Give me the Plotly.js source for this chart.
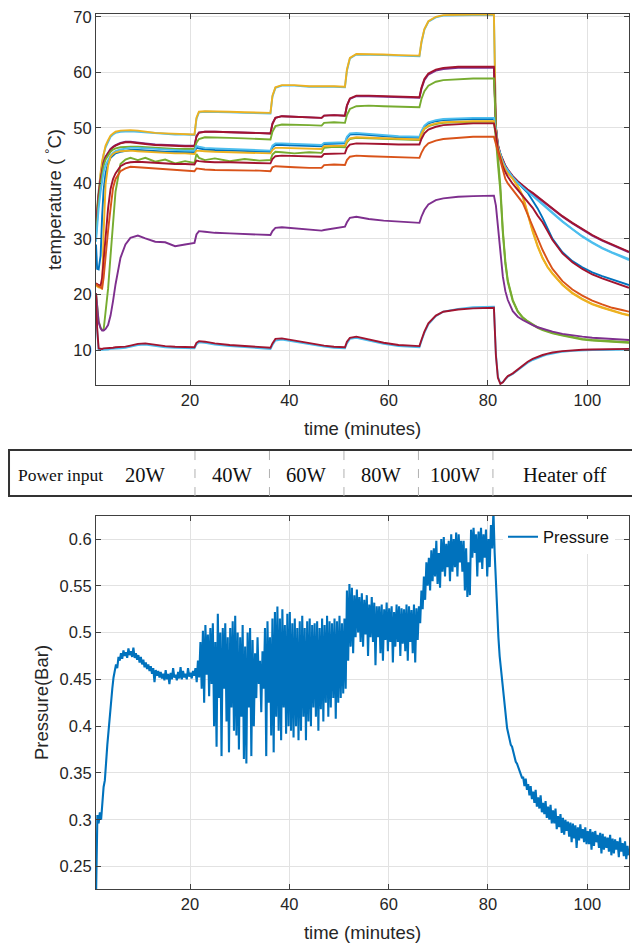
<!DOCTYPE html>
<html><head><meta charset="utf-8">
<script src="https://cdn.plot.ly/plotly-3.0.1.min.js"></script>
<style>html,body{margin:0;padding:0;background:#fff;}#chart{width:632px;height:945px;}</style>
</head><body><div id="chart"></div>
<script>
// ---------- DATA ----------
const timeMin = [1.07,1.3,1.6,2.0,2.3,2.6,3.0,3.5,4.0,4.5,5.0,6.0,7.0,8.0,9.5,11,13,15,17,19,
 20.9,
 21.3,21.8,23,25,28,31,34,36.2,
 36.6,37.2,38.5,41,44,46.5,47,49,51.2,
 51.6,52.2,53.5,56,59,62,66.2,
 66.6,67.2,68,69.5,71,74,77,81.2,
 81.6,82,82.5,83,83.5,84,85,86,87,88,89,90,91,92,93,95,97,99,101,103,105,107,108.4];

const tcCyanTop = [33.0,35.6,38.6,41.6,43.6,45.2,46.5,47.6,48.4,48.8,49.1,49.3,49.4,49.4,49.3,49.2,49.0,48.9,48.8,48.8,
 48.7,
 51.6,52.8,52.9,52.9,52.8,52.7,52.6,52.6,
 55.6,57.2,57.6,57.6,57.4,57.3,57.4,57.4,57.3,
 60.3,62.5,63.2,63.2,63.1,63.0,62.9,
 65.3,67.7,69.1,69.9,70.2,70.3,70.3,70.3,
 50.2,46.8,45.1,43.9,43.0,42.3,41.1,40.1,39.3,38.6,37.9,37.1,36.3,35.5,34.7,33.2,31.8,30.5,29.4,28.4,27.6,26.9,26.4];
const tcYellowTop = [33.5,36.0,39.0,42.0,44.0,45.5,46.8,47.8,48.6,49.0,49.3,49.5,49.6,49.6,49.5,49.3,49.1,49.0,48.9,48.9,
 48.8,
 51.8,52.9,53.0,53.0,52.9,52.8,52.7,52.7,
 55.8,57.3,57.7,57.7,57.5,57.4,57.5,57.5,57.4,
 60.5,62.6,63.3,63.3,63.2,63.1,63.0,
 65.5,67.8,69.2,70.0,70.3,70.4,70.4,70.4,
 50.0,46.5,44.8,43.6,42.6,41.9,41.0,39.6,37.8,34.5,31.5,28.8,26.6,25.0,23.8,21.8,20.3,19.2,18.3,17.7,17.1,16.6,16.3];
const tcPurpleUpper = [32.2,35.0,38.0,40.8,42.6,43.8,44.8,45.6,46.2,46.6,46.9,47.3,47.5,47.5,47.4,47.2,47.0,46.9,46.8,46.8,
 46.8,
 48.5,49.2,49.3,49.3,49.2,49.1,49.0,49.0,
 50.8,51.8,52.1,52.0,51.9,51.8,52.2,52.3,52.2,
 54.0,55.2,55.7,55.7,55.6,55.5,55.4,
 57.0,58.6,59.6,60.3,60.6,60.8,60.8,60.8,
 50.0,46.8,45.2,44.0,43.1,42.4,41.2,40.3,39.5,38.8,38.2,37.5,36.7,36.0,35.3,34.0,32.8,31.7,30.6,29.7,28.9,28.1,27.6];
const tcRedUpper = [32.0,34.8,37.8,40.6,42.5,43.7,44.7,45.5,46.1,46.5,46.8,47.2,47.4,47.4,47.3,47.1,46.9,46.8,46.7,46.7,
 46.7,
 48.4,49.1,49.3,49.3,49.2,49.1,49.0,49.0,
 50.7,51.8,52.1,52.0,51.9,51.8,52.2,52.3,52.2,
 54.0,55.3,55.8,55.8,55.7,55.6,55.5,
 57.2,58.8,59.8,60.5,60.8,61.0,61.0,61.0,
 50.2,47.0,45.3,44.1,43.2,42.5,41.3,40.4,39.6,38.9,38.3,37.6,36.8,36.1,35.4,34.1,32.9,31.8,30.7,29.8,29.0,28.2,27.7];
const tcGreenUpper = [30.5,33.5,36.8,39.8,41.8,43.2,44.3,45.1,45.7,46.1,46.3,46.5,46.6,46.6,46.6,46.5,46.4,46.3,46.2,46.2,
 46.2,
 47.3,48.0,48.3,48.3,48.2,48.1,48.0,47.9,
 49.3,50.3,50.6,50.6,50.5,50.4,50.9,51.0,50.9,
 52.3,53.4,53.9,54.0,53.9,53.8,53.7,
 55.2,56.6,57.6,58.3,58.6,58.8,58.9,58.9,
 50.0,45.0,39.5,31.5,26.0,22.5,19.0,17.0,15.9,15.2,14.6,14.1,13.7,13.4,13.1,12.7,12.3,12.0,11.8,11.7,11.6,11.5,11.4];
const tcBlueMid = [29.0,24.6,24.5,27.0,34.0,38.8,41.8,43.6,44.6,45.1,45.4,45.7,45.9,46.0,46.0,45.9,45.8,45.7,45.7,45.6,
 45.6,
 46.4,46.3,46.1,46.0,45.9,45.8,45.7,45.7,
 46.5,46.9,46.9,46.8,46.7,46.7,47.1,47.2,47.2,
 48.2,48.8,48.9,48.7,48.5,48.3,48.2,
 49.2,50.2,50.8,51.2,51.4,51.5,51.6,51.6,
 49.6,46.6,45.0,43.8,42.9,42.2,41.1,40.1,39.2,38.3,37.0,35.5,33.8,31.8,30.0,27.6,26.0,24.9,24.0,23.3,22.7,22.1,21.7];
const tcCyanMid = [29.5,32.5,35.5,38.5,40.5,42.0,43.3,44.3,45.0,45.5,45.8,46.1,46.3,46.4,46.4,46.3,46.2,46.1,46.0,45.9,
 45.9,
 46.7,46.6,46.4,46.3,46.2,46.1,46.0,45.9,
 46.8,47.2,47.2,47.1,47.0,46.9,47.3,47.4,47.4,
 48.4,49.0,49.1,48.9,48.7,48.5,48.4,
 49.4,50.4,51.0,51.4,51.6,51.7,51.8,51.8,
 49.8,46.7,45.1,43.9,43.0,42.3,41.1,40.1,39.3,38.5,37.8,37.0,36.2,35.4,34.6,33.1,31.7,30.4,29.3,28.3,27.5,26.8,26.2];
const tcGreenMid = [20.2,17.5,15.2,14.0,13.6,13.6,16.5,21.0,27.0,33.5,38.5,43.5,44.3,44.6,44.2,44.6,43.9,44.3,43.6,44.0,
 43.7,
 45.3,44.6,44.2,44.5,44.0,44.4,44.1,44.2,
 45.2,45.7,45.6,45.4,45.6,45.5,46.4,46.6,46.5,
 47.4,48.0,48.2,48.1,48.0,47.9,47.8,
 48.8,49.8,50.3,50.7,50.9,51.0,51.1,51.1,
 48.0,43.5,38.5,31.0,25.5,22.2,18.8,16.9,15.8,15.1,14.5,14.0,13.6,13.3,13.0,12.6,12.2,11.9,11.7,11.6,11.5,11.4,11.3];
const tcYellowMid = [21.6,21.4,21.3,21.2,21.0,31.0,39.8,43.2,44.8,45.3,45.6,45.8,45.9,45.9,45.8,45.7,45.6,45.5,45.4,45.4,
 45.3,
 45.9,45.9,45.8,45.7,45.6,45.5,45.5,45.4,
 46.0,46.4,46.4,46.3,46.2,46.2,46.7,46.8,46.8,
 47.6,48.1,48.3,48.2,48.1,48.0,47.9,
 48.9,49.9,50.4,50.8,51.0,51.1,51.2,51.2,
 49.4,46.4,44.7,43.5,42.5,41.8,40.8,39.4,37.6,34.3,31.3,28.6,26.5,24.9,23.7,21.7,20.2,19.1,18.2,17.6,17.0,16.5,16.2];
const tcRedMid = [22.0,21.8,21.7,21.6,23.0,26.0,30.5,35.5,39.0,40.8,41.8,43.1,43.6,43.8,43.9,43.8,43.7,43.6,43.5,43.5,
 43.4,
 44.1,44.0,43.9,43.8,43.8,43.7,43.6,43.6,
 44.4,44.9,45.0,44.9,44.8,44.8,45.3,45.4,45.4,
 46.4,47.0,47.2,47.2,47.1,47.0,47.0,
 48.0,49.0,49.7,50.2,50.5,50.7,50.8,50.8,
 49.0,46.0,44.3,43.0,42.0,41.2,39.9,38.8,37.7,36.8,35.6,34.2,33.0,31.4,29.8,27.4,25.8,24.6,23.6,22.9,22.3,21.7,21.2];
const tcOrangeMid = [21.9,21.7,21.5,21.3,21.1,23.0,27.0,31.5,35.5,39.2,40.8,42.2,42.7,43.0,42.9,42.8,42.6,42.5,42.4,42.3,
 42.2,
 42.7,42.6,42.5,42.4,42.4,42.3,42.3,42.2,
 42.9,43.1,43.0,42.9,42.8,42.8,43.3,43.4,43.3,
 44.2,44.8,45.0,44.9,44.8,44.7,44.6,
 45.5,46.5,47.2,47.7,48.0,48.2,48.4,48.4,
 47.0,45.5,44.0,42.2,40.8,40.0,38.8,37.6,36.5,34.4,32.2,30.1,28.0,26.2,24.6,22.4,20.9,19.8,18.9,18.2,17.6,17.2,16.9];
const tcPurpleLower = [20.2,17.2,15.0,13.9,13.5,13.5,13.8,14.5,16.2,18.8,21.8,26.6,29.0,30.2,30.6,30.1,29.5,29.4,28.7,29.0,
 29.3,
 30.8,31.4,31.3,31.1,31.0,30.9,30.8,30.7,
 31.4,32.0,32.1,31.9,31.7,31.5,31.6,31.9,32.2,
 33.0,33.8,34.0,33.6,33.3,33.1,32.9,
 34.0,35.2,36.2,37.0,37.3,37.6,37.7,37.8,
 36.0,32.0,27.5,23.2,20.6,19.0,17.0,16.0,15.4,14.9,14.5,14.1,13.8,13.5,13.3,12.9,12.6,12.4,12.2,12.1,12.0,11.9,11.8];
const tcCyanBottom = [19.5,13.5,10.0,10.0,10.0,10.1,10.1,10.1,10.2,10.2,10.3,10.3,10.4,10.6,10.9,11.0,10.7,10.5,10.4,10.3,
 10.3,
 11.0,11.4,11.3,11.0,10.7,10.5,10.3,10.2,
 10.9,11.7,11.9,11.5,11.0,10.7,10.6,10.4,10.3,
 11.2,12.0,12.2,11.7,11.1,10.7,10.5,
 11.6,13.1,14.6,16.1,16.9,17.4,17.7,17.8,
 9.2,5.2,4.0,4.2,4.7,5.2,5.7,6.4,7.1,7.7,8.2,8.6,8.9,9.2,9.4,9.7,9.85,9.95,10.0,10.0,10.05,10.05,10.1];
const tcRedBottom = [20.2,14.0,10.3,10.2,10.2,10.3,10.3,10.3,10.4,10.4,10.5,10.5,10.6,10.8,11.1,11.2,10.9,10.7,10.6,10.5,
 10.5,
 11.3,11.6,11.5,11.2,10.9,10.7,10.5,10.4,
 11.2,12.0,12.1,11.7,11.2,10.9,10.8,10.6,10.5,
 11.5,12.2,12.4,11.9,11.3,10.9,10.7,
 11.8,13.3,14.8,16.2,16.9,17.3,17.5,17.6,
 9.0,5.0,3.9,4.2,4.8,5.3,5.8,6.5,7.3,7.9,8.4,8.8,9.1,9.35,9.55,9.8,9.95,10.05,10.1,10.1,10.15,10.2,10.2];

// pressure, sampled every 0.25 min from 1.1 min (one group of four = one minute)
const pressureStartMin = 1.1;
const pressureStepMin = 0.25;
const pressureBar = [
 0.226,0.305,0.296,0.308, 0.300,0.318,0.335,0.342, 0.368,0.380,0.395,0.412, 0.428,0.440,0.452,0.458,
 0.466,0.462,0.474,0.470, 0.478,0.472,0.481,0.475, 0.479,0.473,0.483,0.476, 0.480,0.474,0.484,0.473,
 0.478,0.471,0.476,0.468, 0.474,0.466,0.471,0.463, 0.468,0.461,0.466,0.459, 0.464,0.456,0.462,0.447,
 0.460,0.454,0.459,0.452, 0.458,0.451,0.456,0.449, 0.460,0.450,0.456,0.445, 0.457,0.450,0.462,0.452,
 0.455,0.449,0.458,0.451, 0.463,0.450,0.459,0.452, 0.456,0.450,0.462,0.453, 0.457,0.451,0.459,0.454,
 0.462,0.447,0.470,0.452, 0.490,0.440,0.502,0.425, 0.508,0.455,0.498,0.432, 0.505,0.445,0.510,0.400,
 0.490,0.378,0.520,0.430, 0.500,0.368,0.505,0.440, 0.510,0.405,0.495,0.372, 0.505,0.420,0.512,0.395,
 0.518,0.390,0.500,0.375, 0.495,0.410,0.508,0.365, 0.485,0.360,0.500,0.420, 0.505,0.368,0.492,0.400,
 0.478,0.430,0.495,0.445, 0.470,0.415,0.480,0.440, 0.505,0.368,0.512,0.425, 0.495,0.390,0.515,0.372,
 0.522,0.410,0.528,0.395, 0.515,0.385,0.525,0.420, 0.508,0.392,0.520,0.400, 0.522,0.395,0.510,0.388,
 0.515,0.400,0.505,0.385, 0.512,0.395,0.518,0.410, 0.505,0.385,0.512,0.405, 0.515,0.400,0.508,0.420,
 0.510,0.410,0.512,0.395, 0.505,0.418,0.515,0.405, 0.508,0.425,0.518,0.410, 0.512,0.420,0.510,0.430,
 0.515,0.408,0.512,0.425, 0.518,0.430,0.510,0.435, 0.515,0.440,0.545,0.470, 0.552,0.485,0.548,0.478,
 0.540,0.495,0.546,0.500, 0.538,0.490,0.542,0.485, 0.535,0.498,0.540,0.475, 0.530,0.495,0.538,0.490,
 0.532,0.465,0.528,0.495, 0.528,0.478,0.530,0.470, 0.525,0.492,0.532,0.480, 0.526,0.490,0.528,0.468,
 0.522,0.485,0.530,0.490, 0.528,0.475,0.526,0.488, 0.525,0.480,0.530,0.470, 0.528,0.490,0.524,0.478,
 0.530,0.468,0.526,0.492, 0.528,0.510,0.545,0.525, 0.560,0.535,0.575,0.550, 0.580,0.545,0.588,0.555,
 0.590,0.560,0.598,0.552, 0.585,0.548,0.600,0.565, 0.602,0.560,0.595,0.570, 0.598,0.555,0.605,0.565,
 0.600,0.570,0.607,0.560, 0.605,0.575,0.598,0.565, 0.598,0.545,0.590,0.538, 0.575,0.540,0.610,0.580,
 0.612,0.585,0.605,0.560, 0.608,0.575,0.612,0.568, 0.605,0.580,0.610,0.560, 0.600,0.570,0.615,0.590,
 0.630,0.585,0.552,0.520, 0.495,0.475,0.462,0.448, 0.432,0.418,0.405,0.398, 0.392,0.386,0.380,0.378,
 0.372,0.368,0.362,0.360, 0.356,0.352,0.349,0.345, 0.345,0.336,0.344,0.332, 0.338,0.326,0.336,0.322,
 0.330,0.318,0.332,0.314, 0.324,0.312,0.326,0.308, 0.318,0.306,0.320,0.302, 0.314,0.300,0.316,0.296,
 0.310,0.296,0.312,0.290, 0.304,0.292,0.306,0.286, 0.302,0.284,0.300,0.288, 0.298,0.282,0.297,0.276,
 0.296,0.280,0.294,0.270, 0.292,0.278,0.295,0.280, 0.290,0.276,0.292,0.274, 0.288,0.274,0.290,0.268,
 0.287,0.272,0.288,0.276, 0.284,0.270,0.286,0.264, 0.285,0.268,0.282,0.270, 0.281,0.266,0.284,0.262,
 0.280,0.264,0.279,0.268, 0.277,0.260,0.281,0.266, 0.275,0.261,0.277,0.258, 0.272,0.262
];

const phaseEdgesMin = [1, 21, 36, 51, 66, 81, 110];
const phaseLabels = ['20W', '40W', '60W', '80W', '100W', 'Heater off'];
const tempTicks = [10, 20, 30, 40, 50, 60, 70];
const pressureTicks = [0.25, 0.3, 0.35, 0.4, 0.45, 0.5, 0.55, 0.6];
const pressureTickText = ['0.25', '0.3', '0.35', '0.4', '0.45', '0.5', '0.55', '0.6'];
const timeTicks = [20, 40, 60, 80, 100];

// ---------- STYLE ----------
const C = {blue:'#0072BD', orange:'#D95319', yellow:'#EDB120', purple:'#7E2F8E',
           green:'#77AC30', cyan:'#4DBEEE', red:'#A2142F'};
const tempSeries = [
  [tcCyanTop, C.cyan], [tcYellowTop, C.yellow], [tcPurpleUpper, C.purple], [tcRedUpper, C.red],
  [tcGreenUpper, C.green], [tcBlueMid, C.blue], [tcCyanMid, C.cyan], [tcGreenMid, C.green],
  [tcYellowMid, C.yellow], [tcRedMid, C.red], [tcOrangeMid, C.orange], [tcPurpleLower, C.purple],
  [tcCyanBottom, C.cyan], [tcRedBottom, C.red]
];

const traces = tempSeries.map(([vals, col], i) => ({
  type: 'scatter', mode: 'lines', x: timeMin, y: vals, xaxis: 'x', yaxis: 'y',
  line: {color: col, width: 1.9}, showlegend: false, name: 'T' + (i + 1), hoverinfo: 'skip'
}));
const pressureTime = pressureBar.map((_, i) => pressureStartMin + i * pressureStepMin);
traces.push({
  type: 'scatter', mode: 'lines', x: pressureTime, y: pressureBar, xaxis: 'x2', yaxis: 'y2',
  name: 'Pressure', line: {color: C.blue, width: 2.1}, showlegend: true, hoverinfo: 'skip'
});

const FONT = 'Liberation Sans, Arial, sans-serif';
const SERIF = 'Liberation Serif, Times New Roman, serif';
const axCol = '#404040';
const gridCol = '#e2e2e2';
function baseAxis(extra) {
  return Object.assign({
    showline: true, linecolor: axCol, linewidth: 1, mirror: 'ticks',
    ticks: 'inside', ticklen: 5, tickcolor: axCol, tickwidth: 1,
    showgrid: true, gridcolor: gridCol, gridwidth: 1, zeroline: false,
    tickfont: {family: FONT, size: 16.5, color: '#262626'}
  }, extra);
}

const TOP_LO = 0.576, BOT_HI = 0.4263;
const tabY0 = 0.4491, tabY1 = 0.5017, tabYc = 0.4731;

const shapes = [{
  type: 'rect', xref: 'paper', yref: 'paper', x0: -0.1632, x1: 1.03, y0: tabY0, y1: tabY1,
  line: {color: '#333', width: 2}, fillcolor: 'rgba(0,0,0,0)'
}];
phaseEdgesMin.slice(1, -1).forEach(t => shapes.push({
  type: 'line', xref: 'x', yref: 'paper', x0: t, x1: t, y0: tabY0, y1: tabY1,
  line: {color: '#b0b0b0', width: 1, dash: 'dash'}
}));

const annotations = [{
  xref: 'paper', yref: 'paper', x: -0.0657, y: tabYc, text: 'Power input', showarrow: false,
  xanchor: 'center', yanchor: 'middle', font: {family: SERIF, size: 17.5, color: '#111'}
}];
phaseLabels.forEach((lab, i) => annotations.push({
  xref: 'x', yref: 'paper', x: (phaseEdgesMin[i] + phaseEdgesMin[i + 1]) / 2, y: tabYc,
  text: lab, showarrow: false, xanchor: 'center', yanchor: 'middle',
  font: {family: SERIF, size: 20.5, color: '#111'}
}));

const layout = {
  width: 632, height: 945, paper_bgcolor: '#fff', plot_bgcolor: '#fff',
  margin: {l: 96, r: 3, t: 14, b: 56, pad: 0},
  font: {family: FONT, color: '#262626'},
  hovermode: false,
  xaxis: baseAxis({domain: [0, 1], anchor: 'y', range: [1.07, 108.4], tickvals: timeTicks,
    title: {text: 'time (minutes)', font: {family: FONT, size: 18.5, color: '#262626'}, standoff: 14}}),
  yaxis: baseAxis({domain: [TOP_LO, 1], anchor: 'x', range: [3.7, 70.5], tickvals: tempTicks,
    title: {text: 'temperature ( <sup>°</sup>C)', font: {family: FONT, size: 18.5, color: '#262626'}, standoff: 6}}),
  xaxis2: baseAxis({domain: [0, 1], anchor: 'y2', range: [1.07, 108.4], tickvals: timeTicks,
    title: {text: 'time (minutes)', font: {family: FONT, size: 18.5, color: '#262626'}, standoff: 14}}),
  yaxis2: baseAxis({domain: [0, BOT_HI], anchor: 'x2', range: [0.226, 0.6246], tickvals: pressureTicks,
    ticktext: pressureTickText,
    title: {text: 'Pressure(Bar)', font: {family: FONT, size: 18.5, color: '#262626'}, standoff: 6}}),
  legend: {x: 0.7636, y: 0.4023, xanchor: 'left', yanchor: 'middle', bgcolor: '#fff',
    borderwidth: 0, font: {family: FONT, size: 16.5, color: '#111'}},
  shapes: shapes, annotations: annotations
};

Plotly.newPlot('chart', traces, layout, {displayModeBar: false, staticPlot: true});
</script></body></html>
